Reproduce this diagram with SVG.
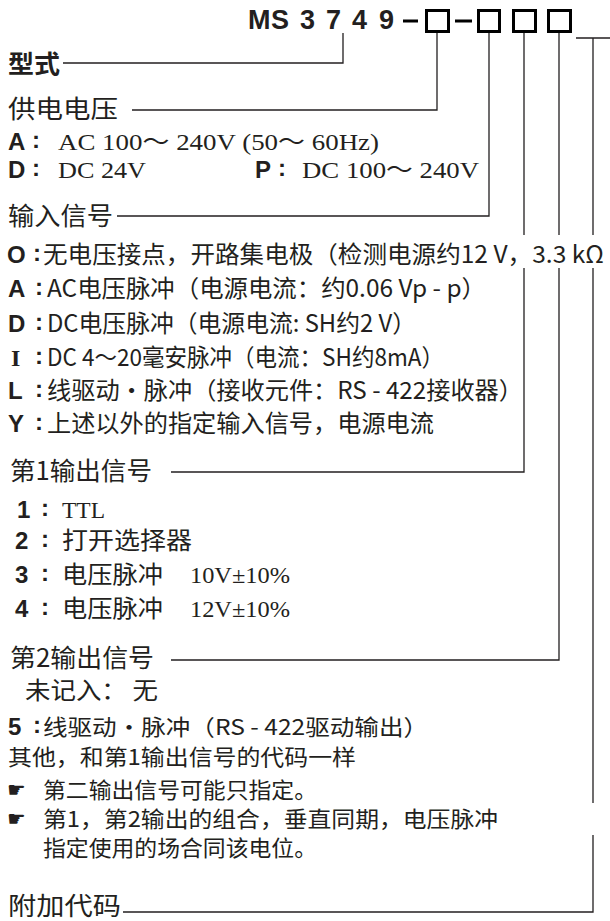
<svg xmlns="http://www.w3.org/2000/svg" width="610" height="921" viewBox="0 0 610 921">
<style>
text{fill:#231f20}
.cj{font-family:"Noto Sans CJK SC","Noto Sans",sans-serif;font-size:24px}
.cs{font-family:"Noto Sans CJK SC","Noto Sans",sans-serif;font-size:22px}
.hd{font-family:"Noto Sans CJK SC","Noto Sans",sans-serif;font-size:25px}
.bd{font-family:"Noto Sans CJK SC",sans-serif;font-size:25px;font-weight:bold}
.lb{font-family:"Liberation Sans",Arial,sans-serif;font-size:24px;font-weight:bold}
.sf{font-family:"Liberation Serif","Noto Sans CJK SC",serif;font-size:24px}
.hand{font-family:"DejaVu Sans",sans-serif;font-size:21px}
.ttl{font-family:"Liberation Sans",Arial,sans-serif;font-size:27px;font-weight:bold}
.ln{fill:none;stroke:#231f20;stroke-width:1.3}
.box{fill:#fff;stroke:#000;stroke-width:3}
</style>
<g id="title">
<text class="ttl" x="248 271 300 326 352 379" y="29">MS3749</text>
<rect x="403" y="19.5" width="15" height="3" fill="#000"/>
<rect class="box" x="426.5" y="10.5" width="22" height="21"/>
<rect x="455" y="19.5" width="17" height="3" fill="#000"/>
<rect class="box" x="478.5" y="10.5" width="21" height="21"/>
<rect class="box" x="513.5" y="10.5" width="22" height="21"/>
<rect class="box" x="548.5" y="10.5" width="22" height="21"/>
</g>
<g id="connectors">
<path class="ln" d="M343,33V63H63"/>
<path class="ln" d="M437,33V110H132"/>
<path class="ln" d="M489,33V216H117"/>
<path class="ln" d="M524,33V235M524,268V472H171"/>
<path class="ln" d="M559,33V235M559,268V660H171"/>
<path class="ln" d="M576,38H610M593,38V235M593,268V803M593,835V912H123"/>
</g>
<g id="model">
<text class="bd" x="8" y="73" textLength="52" lengthAdjust="spacingAndGlyphs">型式</text>
</g>
<g id="supply">
<text class="hd" x="8" y="118" textLength="110" lengthAdjust="spacingAndGlyphs">供电电压</text>
<text class="lb" x="8" y="150">A</text><text class="lb" x="32" y="148">:</text>
<text class="sf" x="58" y="150" textLength="321" lengthAdjust="spacingAndGlyphs">AC 100～ 240V (50～ 60Hz)</text>
<text class="lb" x="8" y="178">D</text><text class="lb" x="32" y="176">:</text>
<text class="sf" x="58" y="178" textLength="88" lengthAdjust="spacingAndGlyphs">DC 24V</text>
<text class="lb" x="255" y="178">P</text><text class="lb" x="278" y="176">:</text>
<text class="sf" x="302" y="178" textLength="177" lengthAdjust="spacingAndGlyphs">DC 100～ 240V</text>
</g>
<g id="input">
<text class="hd" x="8" y="225" textLength="105" lengthAdjust="spacingAndGlyphs">输入信号</text>
<text class="lb" x="7" y="263">O</text><text class="lb" x="33" y="261">:</text>
<text class="cj" x="43" y="263" textLength="561" lengthAdjust="spacingAndGlyphs">无电压接点，开路集电极（检测电源约12 V，3.3 kΩ</text>
<text class="lb" x="8" y="297">A</text><text class="lb" x="35" y="295">:</text>
<text class="cj" x="47" y="297" textLength="439" lengthAdjust="spacingAndGlyphs">AC电压脉冲（电源电流：约0.06 Vp - p）</text>
<text class="lb" x="8" y="332">D</text><text class="lb" x="35" y="330">:</text>
<text class="cj" x="47" y="332" textLength="369" lengthAdjust="spacingAndGlyphs">DC电压脉冲（电源电流: SH约2 V）</text>
<text class="sf" x="11" y="366" font-weight="bold">I</text><text class="lb" x="35" y="364">:</text>
<text class="cj" x="47" y="366" textLength="397" lengthAdjust="spacingAndGlyphs">DC 4～20毫安脉冲（电流：SH约8mA）</text>
<text class="lb" x="8" y="399">L</text><text class="lb" x="35" y="397">:</text>
<text class="cj" x="47" y="399" textLength="476" lengthAdjust="spacingAndGlyphs">线驱动・脉冲（接收元件：RS - 422接收器）</text>
<text class="lb" x="8" y="432">Y</text><text class="lb" x="35" y="430">:</text>
<text class="cj" x="47" y="432" textLength="387" lengthAdjust="spacingAndGlyphs">上述以外的指定输入信号，电源电流</text>
</g>
<g id="output1">
<text class="hd" x="10" y="480" textLength="142" lengthAdjust="spacingAndGlyphs">第1输出信号</text>
<text class="lb" x="17" y="518">1</text><text class="lb" x="41" y="516">:</text>
<text class="sf" x="62" y="518" textLength="43" lengthAdjust="spacingAndGlyphs">TTL</text>
<text class="lb" x="15" y="549">2</text><text class="lb" x="41" y="547">:</text>
<text class="cj" x="62" y="549" textLength="130" lengthAdjust="spacingAndGlyphs">打开选择器</text>
<text class="lb" x="15" y="583">3</text><text class="lb" x="41" y="581">:</text>
<text class="cj" x="62" y="583" textLength="101" lengthAdjust="spacingAndGlyphs">电压脉冲</text>
<text class="sf" x="190" y="583" textLength="100" lengthAdjust="spacingAndGlyphs">10V±10%</text>
<text class="lb" x="15" y="617">4</text><text class="lb" x="41" y="615">:</text>
<text class="cj" x="62" y="617" textLength="101" lengthAdjust="spacingAndGlyphs">电压脉冲</text>
<text class="sf" x="190" y="617" textLength="100" lengthAdjust="spacingAndGlyphs">12V±10%</text>
</g>
<g id="output2">
<text class="hd" x="10" y="667" textLength="144" lengthAdjust="spacingAndGlyphs">第2输出信号</text>
<text class="cj" x="25" y="699" textLength="133" lengthAdjust="spacingAndGlyphs">未记入： 无</text>
<text class="lb" x="8" y="735" font-size="23">5</text><text class="lb" x="33" y="733">:</text>
<text class="cs" x="43" y="735" textLength="385" lengthAdjust="spacingAndGlyphs">线驱动・脉冲（RS - 422驱动输出）</text>
<text class="cs" x="8" y="765" textLength="348" lengthAdjust="spacingAndGlyphs">其他，和第1输出信号的代码一样</text>
<text class="hand" x="7" y="797">☛</text>
<text class="cs" x="43" y="798" textLength="274" lengthAdjust="spacingAndGlyphs">第二输出信号可能只指定。</text>
<text class="hand" x="7" y="826">☛</text>
<text class="cs" x="43" y="827" textLength="455" lengthAdjust="spacingAndGlyphs">第1，第2输出的组合，垂直同期，电压脉冲</text>
<text class="cs" x="43" y="856" textLength="274" lengthAdjust="spacingAndGlyphs">指定使用的场合同该电位。</text>
</g>
<g id="additional">
<text class="hd" x="8" y="915" textLength="113" lengthAdjust="spacingAndGlyphs">附加代码</text>
</g>
</svg>
